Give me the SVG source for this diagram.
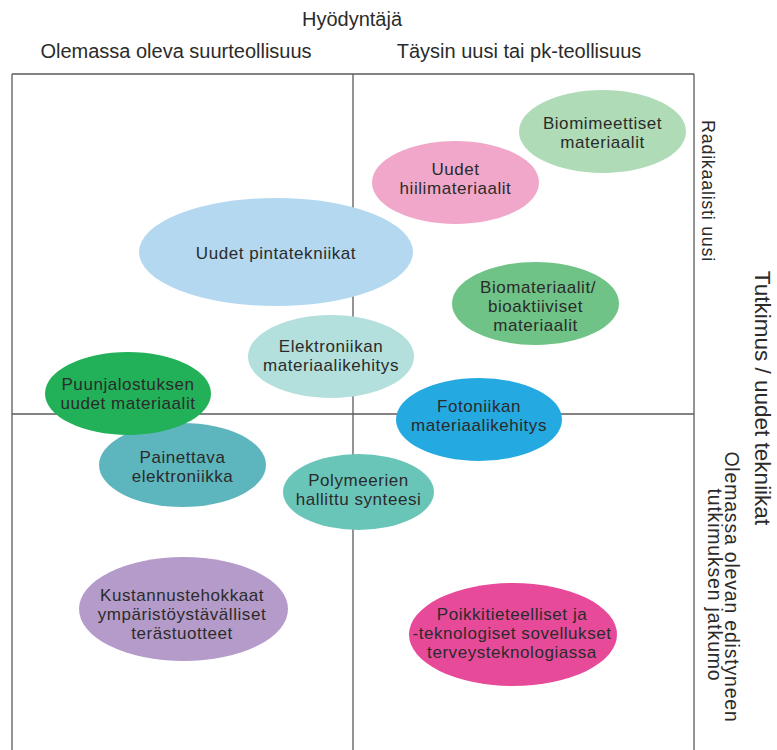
<svg xmlns="http://www.w3.org/2000/svg" width="777" height="750" viewBox="0 0 777 750">
  <style>
    text { font-family: "Liberation Sans", Arial, sans-serif; fill: #2b2b2b; }
    .hdr { font-size: 20px; text-anchor: middle; }
    .lbl { font-size: 17px; letter-spacing: 0.55px; text-anchor: middle; }
    .side { font-size: 18px; letter-spacing: 0.7px; text-anchor: middle; }
    .grid line { stroke: #5a5a5a; stroke-width: 1.3; }
  </style>

  <!-- headings -->
  <text class="hdr" x="352" y="26">Hyödyntäjä</text>
  <text class="hdr" x="176" y="58">Olemassa oleva suurteollisuus</text>
  <text class="hdr" x="519" y="58">Täysin uusi tai pk-teollisuus</text>

  <!-- side headings, reading top to bottom -->
  <text class="side" transform="translate(702,191) rotate(90)">Radikaalisti uusi</text>
  <text class="hdr" style="font-size:22.5px" transform="translate(755,398) rotate(90)">Tutkimus / uudet tekniikat</text>
  <text class="side" style="font-size:19.5px;letter-spacing:0.8px" transform="translate(725,587) rotate(90)">Olemassa olevan edistyneen</text>
  <text class="side" style="font-size:19.5px;letter-spacing:0.8px" transform="translate(708,585) rotate(90)">tutkimuksen jatkumo</text>

  <!-- quadrant frame -->
  <g class="grid">
    <line x1="12" y1="74" x2="694" y2="74"/>
    <line x1="12" y1="74" x2="12" y2="750"/>
    <line x1="694" y1="74" x2="694" y2="750"/>
    <line x1="353" y1="74" x2="353" y2="750"/>
    <line x1="12" y1="414" x2="694" y2="414"/>
  </g>

  <g id="uudet-pintatekniikat">
    <ellipse cx="276" cy="252" rx="137" ry="54" fill="#b3d8f0"/>
    <text class="lbl" x="276" y="259">Uudet pintatekniikat</text>
  </g>

  <g id="elektroniikan-materiaalikehitys">
    <ellipse cx="331" cy="356.5" rx="83" ry="41.5" fill="#b3e0dc"/>
    <text class="lbl" x="331" y="352">Elektroniikan</text>
    <text class="lbl" x="331" y="371">materiaalikehitys</text>
  </g>

  <g id="painettava-elektroniikka">
    <ellipse cx="182.5" cy="465" rx="83.5" ry="42" fill="#5db6bd"/>
    <text class="lbl" x="182.5" y="463">Painettava</text>
    <text class="lbl" x="182.5" y="482">elektroniikka</text>
  </g>

  <g id="puunjalostuksen-uudet-materiaalit">
    <ellipse cx="128" cy="393.5" rx="83" ry="41.5" fill="#22b159"/>
    <text class="lbl" x="128" y="390">Puunjalostuksen</text>
    <text class="lbl" x="128" y="409">uudet materiaalit</text>
  </g>

  <g id="polymeerien-hallittu-synteesi">
    <ellipse cx="358.5" cy="492" rx="75.5" ry="38" fill="#6ac5b9"/>
    <text class="lbl" x="358.5" y="486">Polymeerien</text>
    <text class="lbl" x="358.5" y="505">hallittu synteesi</text>
  </g>

  <g id="kustannustehokkaat-terastuotteet">
    <ellipse cx="183.5" cy="609" rx="104.5" ry="52" fill="#b59bc9"/>
    <text class="lbl" x="182" y="601">Kustannustehokkaat</text>
    <text class="lbl" x="182" y="620">ympäristöystävälliset</text>
    <text class="lbl" x="182" y="639">terästuotteet</text>
  </g>

  <g id="biomimeettiset-materiaalit">
    <ellipse cx="602.5" cy="131.5" rx="83.5" ry="41.5" fill="#afdbb6"/>
    <text class="lbl" x="602.5" y="129">Biomimeettiset</text>
    <text class="lbl" x="602.5" y="148">materiaalit</text>
  </g>

  <g id="uudet-hiilimateriaalit">
    <ellipse cx="455.5" cy="182.5" rx="83.5" ry="41.5" fill="#f1a7c9"/>
    <text class="lbl" x="455.5" y="175">Uudet</text>
    <text class="lbl" x="455.5" y="194">hiilimateriaalit</text>
  </g>

  <g id="biomateriaalit">
    <ellipse cx="535.5" cy="303.5" rx="83.5" ry="41.5" fill="#70c386"/>
    <text class="lbl" x="538" y="293">Biomateriaalit/</text>
    <text class="lbl" x="535.5" y="312">bioaktiiviset</text>
    <text class="lbl" x="535.5" y="331">materiaalit</text>
  </g>

  <g id="fotoniikan-materiaalikehitys">
    <ellipse cx="479" cy="419.5" rx="83" ry="41.5" fill="#24a9e1"/>
    <text class="lbl" x="479" y="412">Fotoniikan</text>
    <text class="lbl" x="479" y="431">materiaalikehitys</text>
  </g>

  <g id="poikkitieteelliset-sovellukset">
    <ellipse cx="513" cy="634.5" rx="104" ry="51.5" fill="#e64a99"/>
    <text class="lbl" x="512" y="620">Poikkitieteelliset ja</text>
    <text class="lbl" x="512" y="639">-teknologiset sovellukset</text>
    <text class="lbl" x="512" y="658">terveysteknologiassa</text>
  </g>
</svg>
